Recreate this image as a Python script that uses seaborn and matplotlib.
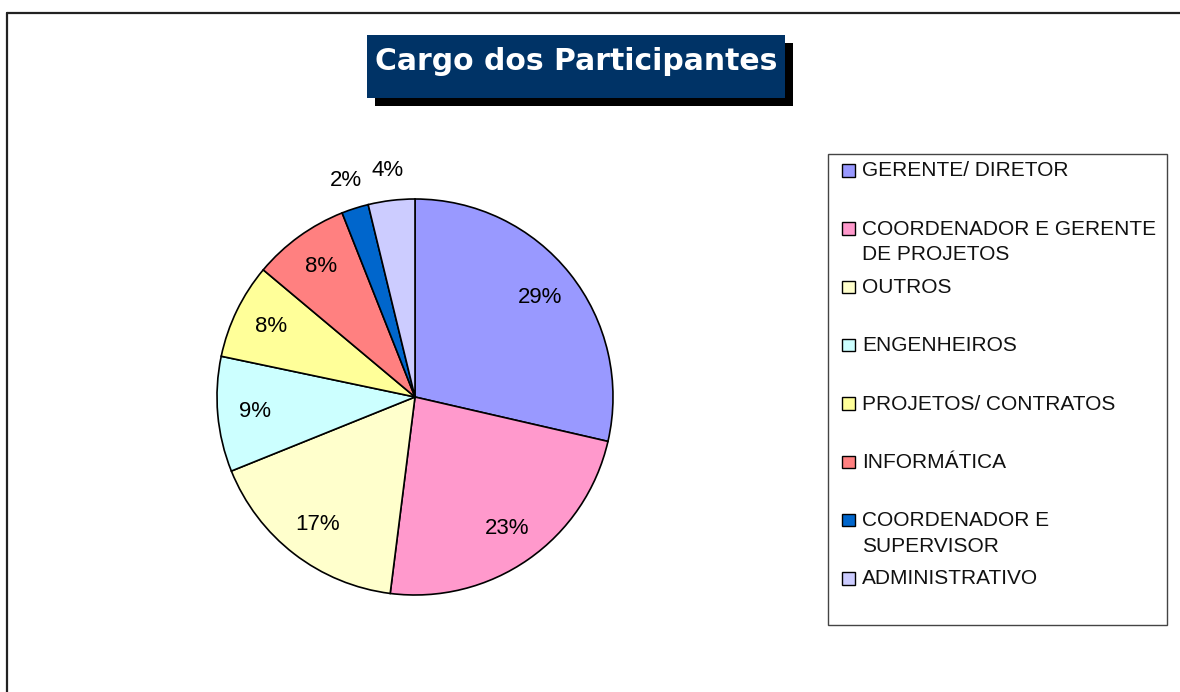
import matplotlib
matplotlib.use("Agg")
import matplotlib.pyplot as plt
from matplotlib.patches import Rectangle
from matplotlib.lines import Line2D
import numpy as np
import seaborn as sns


W, H = 1180, 692

categorias = [
    "GERENTE/ DIRETOR",
    "COORDENADOR E GERENTE\nDE PROJETOS",
    "OUTROS",
    "ENGENHEIROS",
    "PROJETOS/ CONTRATOS",
    "INFORMÁTICA",
    "COORDENADOR E\nSUPERVISOR",
    "ADMINISTRATIVO",
]
percentuais = [28.6, 23.4, 16.9, 9.4, 7.8, 7.9, 2.2, 3.8]
cores = [
    "#9999FF",
    "#FF99CC",
    "#FFFFCC",
    "#CCFFFF",
    "#FFFF99",
    "#FF8080",
    "#0066CC",
    "#CCCCFF",
]

TITULO = "Cargo dos Participantes"


def fx(px):
    return px / W


def fy(py):
    return 1 - py / H


sns.set_theme(style="white")
plt.rcParams["font.family"] = ["Liberation Sans", "DejaVu Sans"]

fig = plt.figure(figsize=(W / 100, H / 100), dpi=100)
fig.patch.set_facecolor("white")

# moldura externa (so topo e lado esquerdo aparecem)
fig.add_artist(Line2D([fx(7), 1], [fy(13), fy(13)], color="#222222", lw=1.6))
fig.add_artist(Line2D([fx(7), fx(7)], [fy(13), 0], color="#222222", lw=1.6))

# pizza
cx, cy, r = 415, 397, 198
ax = fig.add_axes([fx(cx - r), fy(cy + r), 2 * r / W, 2 * r / H])
palette = sns.color_palette(cores)
wedges, _, autotexts = ax.pie(
    percentuais,
    colors=palette,
    startangle=90,
    counterclock=False,
    radius=1,
    autopct="%.0f%%",
    pctdistance=0.81,
    wedgeprops=dict(edgecolor="black", linewidth=1.2),
    textprops=dict(fontsize=16, color="black"),
)
for w, t, v in zip(wedges, autotexts, percentuais):
    if v < 5:
        ang = np.deg2rad((w.theta1 + w.theta2) / 2)
        t.set_position((1.15 * np.cos(ang), 1.15 * np.sin(ang)))
ax.set_xlim(-1, 1)
ax.set_ylim(-1, 1)
ax.set_aspect("equal")
ax.axis("off")

# titulo com caixa e sombra
box_w = (785 - 367) / W
box_h = (98 - 35) / H
fig.add_artist(Rectangle((fx(375), fy(106)), box_w, box_h, facecolor="black", edgecolor="none"))
fig.add_artist(Rectangle((fx(367), fy(98)), box_w, box_h, facecolor="#003366", edgecolor="none"))
fig.text(fx(576), fy(69.5), TITULO, color="white", fontsize=21.5, fontweight="bold",
         family="DejaVu Sans", ha="center", va="baseline")

# legenda
fig.add_artist(Rectangle((fx(828), fy(625)), (1167 - 828) / W, (625 - 154) / H,
                         facecolor="white", edgecolor="#444444", lw=1))
for i, (nome, cor) in enumerate(zip(categorias, cores)):
    base = 176.5 + i * 58.3
    fig.add_artist(Rectangle((fx(842), fy(base)), 12.5 / W, 12.5 / H,
                             facecolor=cor, edgecolor="black", lw=1))
    fig.text(fx(862), fy(base - 15.2), nome, fontsize=15, color="#111111",
             ha="left", va="top", linespacing=1.45)

fig.savefig("out.png", dpi=100)
